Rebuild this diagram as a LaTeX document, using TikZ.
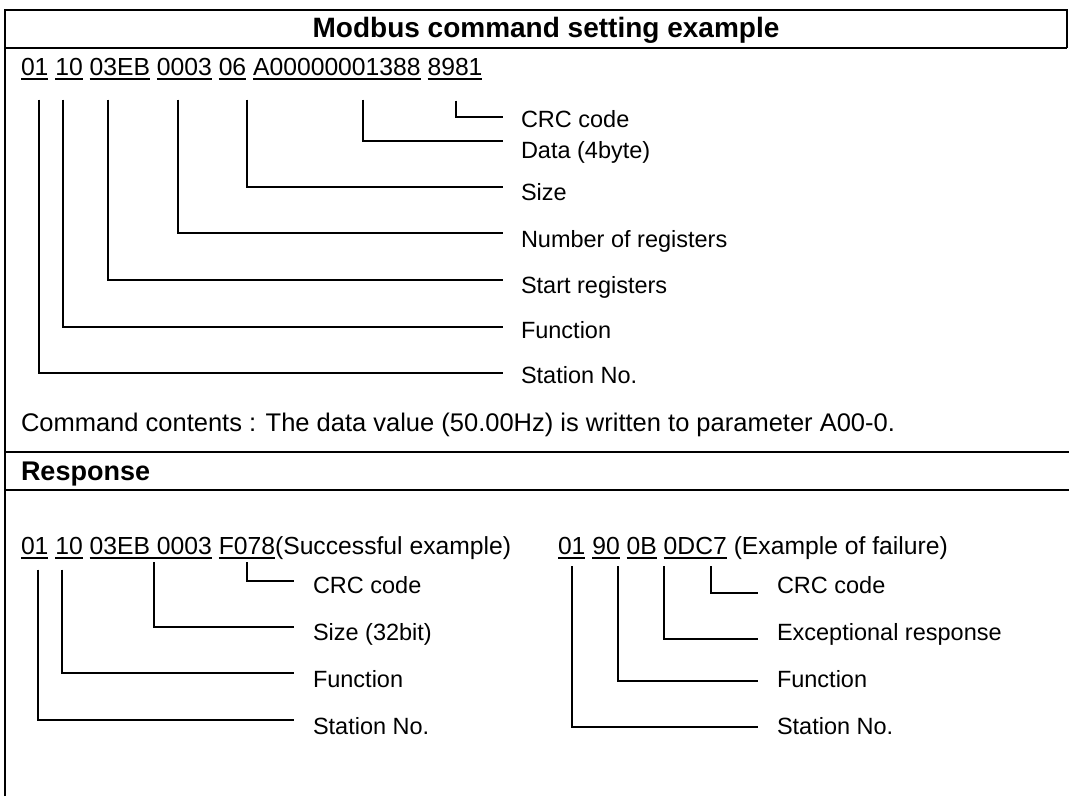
\documentclass[tikz,border=0pt]{standalone}
\usepackage{fontspec}
\setmainfont{Liberation Sans}
\usetikzlibrary{calc}
\newcommand{\ulx}[1]{\setbox0\hbox{#1}\rlap{\rule[-4.6pt]{\wd0}{1.5pt}}\box0}
\begin{document}
\begin{tikzpicture}[x=1pt,y=-1pt,
  txt/.style={inner sep=0pt,outer sep=0pt,anchor=base west,font=\fontsize{24.7}{30}\selectfont},
  lbl/.style={inner sep=0pt,outer sep=0pt,anchor=base west,font=\fontsize{23.5}{28}\selectfont},
  ttl/.style={inner sep=0pt,outer sep=0pt,anchor=base,font=\fontsize{28}{33}\selectfont\bfseries},
  conn/.style={line width=1.4pt},
  frm/.style={line width=2pt}]
\useasboundingbox (0,0) rectangle (1069,796);
% frame
\draw[frm] (5,796) -- (5,10) -- (1067,10) -- (1067,48);
\draw[frm] (5,48) -- (1067,48);
\draw[frm] (5,452) -- (1069,452);
\draw[frm] (5,490) -- (1069,490);
% title
\node[ttl] (title) at (546,37) {Modbus command setting example};
% command line
\node[txt] (a1) at (21,75) {\ulx{01}};
\node[txt] (a2) at ([xshift=6.86pt]a1.base east) {\ulx{10}};
\node[txt] (a3) at ([xshift=6.86pt]a2.base east) {\ulx{03EB}};
\node[txt] (a4) at ([xshift=6.86pt]a3.base east) {\ulx{0003}};
\node[txt] (a5) at ([xshift=6.86pt]a4.base east) {\ulx{06}};
\node[txt] (a6) at ([xshift=6.86pt]a5.base east) {\ulx{A00000001388}};
\node[txt] (a7) at ([xshift=6.86pt]a6.base east) {\ulx{8981}};
% labels
\node[lbl] (c1) at (521,127) {CRC code};
\node[lbl] (c2) at (521,158) {Data (4byte)};
\node[lbl] (c3) at (521,200) {Size};
\node[lbl] (c4) at (521,247) {Number of registers};
\node[lbl] (c5) at (521,293) {Start registers};
\node[lbl] (c6) at (521,338) {Function};
\node[lbl] (c7) at (521,383) {Station No.};
% connectors
\draw[conn] (456,0 |- a7.south) ++(0,21) |- ([xshift=-18pt,yshift=10pt]c1.base west);
\draw[conn] (363,0 |- a6.south) ++(0,20) |- ([xshift=-18pt,yshift=17pt]c2.base west);
\draw[conn] (247,0 |- a5.south) ++(0,20) |- ([xshift=-18pt,yshift=13pt]c3.base west);
\draw[conn] (178,0 |- a4.south) ++(0,20) |- ([xshift=-18pt,yshift=14pt]c4.base west);
\draw[conn] (108,0 |- a3.south) ++(0,20) |- ([xshift=-18pt,yshift=13pt]c5.base west);
\draw[conn] (63,0 |- a2.south) ++(0,20) |- ([xshift=-18pt,yshift=11pt]c6.base west);
\draw[conn] (39,0 |- a1.south) ++(0,20) |- ([xshift=-18pt,yshift=10pt]c7.base west);
% command contents
\node[txt,font=\fontsize{25.5}{30}\selectfont] (cc) at (21,431) {Command contents : The data value (50.00Hz) is written to parameter A00-0.};
\node[txt,font=\fontsize{27}{32}\selectfont\bfseries] (resp) at (21,480) {Response};
% successful response
\node[txt] (b1) at (21,554) {\ulx{01}};
\node[txt] (b2) at ([xshift=6.86pt]b1.base east) {\ulx{10}};
\node[txt] (b3) at ([xshift=6.86pt]b2.base east) {\ulx{03EB 0003}};
\node[txt] (b4) at ([xshift=6.86pt]b3.base east) {\ulx{F078}};
\node[txt] (b5) at (b4.base east) {(Successful example)};
\node[lbl] (d1) at (313,593) {CRC code};
\node[lbl] (d2) at (313,640) {Size (32bit)};
\node[lbl] (d3) at (313,687) {Function};
\node[lbl] (d4) at (313,734) {Station No.};
\draw[conn] (247,0 |- b4.south) ++(0,3.5) |- ([xshift=-19pt,yshift=12pt]d1.base west);
\draw[conn] (154,0 |- b3.south) ++(0,3.5) |- ([xshift=-19pt,yshift=13pt]d2.base west);
\draw[conn] (62,0 |- b2.south) ++(0,11) |- ([xshift=-19pt,yshift=14pt]d3.base west);
\draw[conn] (38,0 |- b1.south) ++(0,11) |- ([xshift=-19pt,yshift=14pt]d4.base west);
% failure response
\node[txt] (r1) at (558,554) {\ulx{01}};
\node[txt] (r2) at ([xshift=6.86pt]r1.base east) {\ulx{90}};
\node[txt] (r3) at ([xshift=6.86pt]r2.base east) {\ulx{0B}};
\node[txt] (r4) at ([xshift=6.86pt]r3.base east) {\ulx{0DC7}};
\node[txt] (r5) at ([xshift=6.86pt]r4.base east) {(Example of failure)};
\node[lbl] (e1) at (777,593) {CRC code};
\node[lbl] (e2) at (777,640) {Exceptional response};
\node[lbl] (e3) at (777,687) {Function};
\node[lbl] (e4) at (777,734) {Station No.};
\draw[conn] (711,0 |- r4.south) ++(0,7.5) |- ([xshift=-19pt,yshift=0pt]e1.base west);
\draw[conn] (664,0 |- r3.south) ++(0,7.5) |- ([xshift=-19pt,yshift=1pt]e2.base west);
\draw[conn] (618,0 |- r2.south) ++(0,7.5) |- ([xshift=-19pt,yshift=6pt]e3.base west);
\draw[conn] (572,0 |- r1.south) ++(0,7.5) |- ([xshift=-19pt,yshift=7pt]e4.base west);
\end{tikzpicture}
\end{document}
